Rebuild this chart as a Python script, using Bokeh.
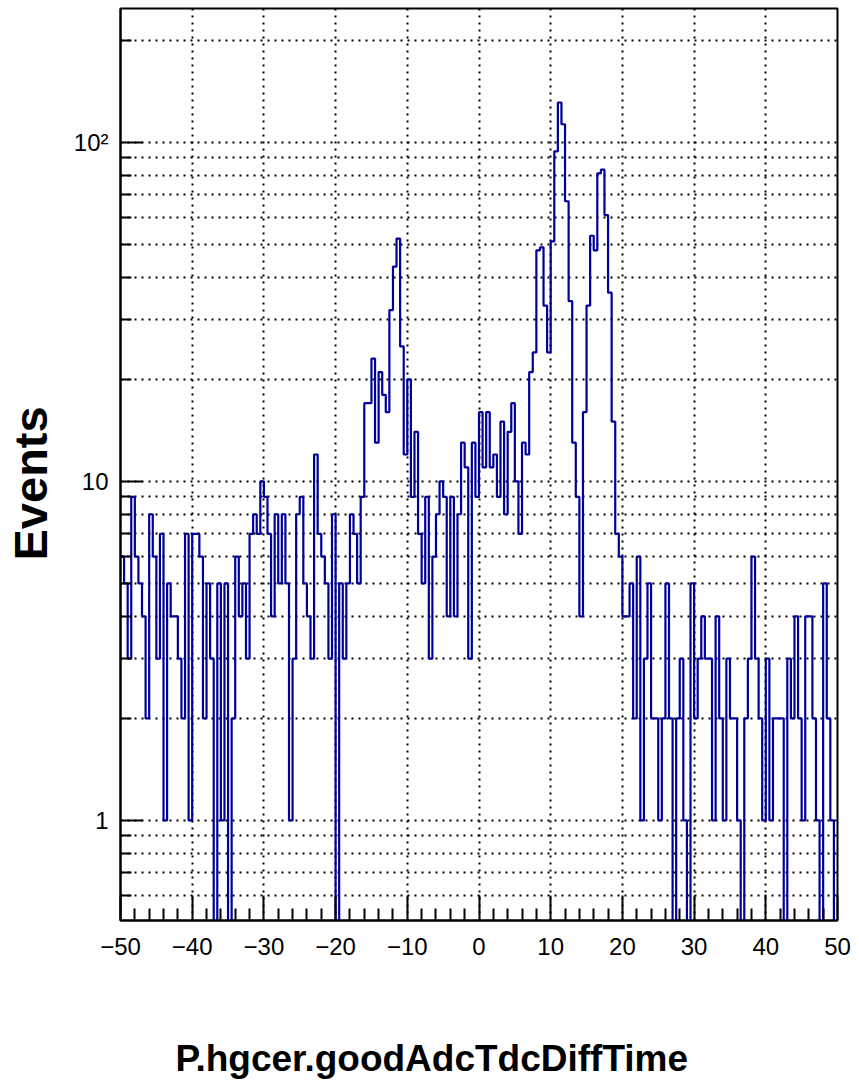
import numpy as np
from bokeh.plotting import figure
from bokeh.models import FixedTicker, Range1d, Title
from bokeh.embed import file_html
from bokeh.resources import INLINE

# ---------------- data ----------------
x_low, x_high, n_bins = -50.0, 50.0, 200

counts_a = [6, 5, 3, 9, 6, 5, 4, 2, 8, 6, 3, 7, 1, 5, 4, 4, 3, 2, 7, 1,
            7, 7, 6, 2, 5, 3, 0, 5, 1, 5, 0, 2, 6, 4]                      # bins 0-33
counts_b = [5, 3, 7, 8, 7, 10, 9, 7, 4, 8, 5, 8, 5, 1, 3, 8, 9, 5, 4, 3,
            12, 7, 6, 5, 3, 8, 0, 5, 3, 5, 8, 7, 5, 9]                     # bins 34-67
counts_c = [17, 17, 23, 13, 21, 18, 16, 32, 43, 52, 25, 12, 20, 9, 14, 7, 5, 9, 3, 6,
            8, 10, 9, 4, 9, 4, 8, 13, 11, 3, 13, 9]                        # bins 68-99
counts_d = [16, 11, 16, 11, 12, 9, 15, 8, 14, 17, 10, 7, 13, 12, 21, 24, 48, 49, 33, 24,
            51, 94, 131, 113, 67, 34, 13, 9, 4, 16, 33, 53, 48, 81, 83, 61, 36, 15, 7, 6]  # 100-139
counts_e = [4, 4, 5, 2, 6, 1, 3, 5, 2, 2, 1, 2, 5, 2, 0, 2, 3, 1, 0, 5,
            2, 3, 4, 3, 3, 1, 4, 2, 1, 3, 2, 2, 1, 0, 2, 3, 6, 3, 2, 1,
            3, 1, 2, 2, 2, 0, 3, 2, 4, 2, 1, 4, 4, 2, 1, 0, 5, 2, 1, 0]    # 140-199
counts = counts_a + counts_b + counts_c + counts_d + counts_e

x_ticks = [-50, -40, -30, -20, -10, 0, 10, 20, 30, 40, 50]
x_tick_labels = ["\u221250", "\u221240", "\u221230", "\u221220", "\u221210",
                 "0", "10", "20", "30", "40", "50"]
y_ticks = [1, 10, 100]
y_tick_labels = ["1", "10", "10\u00b2"]
y_minor = [0.6, 0.7, 0.8, 0.9, 2, 3, 4, 5, 6, 7, 8, 9,
           20, 30, 40, 50, 60, 70, 80, 90, 200]
x_minor = [v for v in range(-48, 50, 2) if v % 10 != 0]

x_title = "P.hgcer.goodAdcTdcDiffTime"
y_title = "Events"

# ---------------- figure ----------------
FONT = "Liberation Sans"
LINE = "#000099"

p = figure(width=859, height=1083, y_axis_type="log",
           x_range=Range1d(x_low, x_high), y_range=Range1d(0.507, 248),
           output_backend="svg", toolbar_location=None,
           min_border_left=120, min_border_right=22,
           min_border_top=8, min_border_bottom=163)
p.background_fill_color = "white"
p.border_fill_color = "white"
p.outline_line_color = "black"
p.outline_line_width = 2

edges = np.linspace(x_low, x_high, n_bins + 1)
c = np.array(counts, dtype=float)
c_plot = np.where(c > 0, c, 1e-3)
xs = list(edges[:-1]) + [edges[-1]]
ys = list(c_plot) + [c_plot[-1]]
p.step(x=xs, y=ys, mode="after", line_color=LINE, line_width=2.2)

# grid
p.xgrid.ticker = FixedTicker(ticks=x_ticks)
p.ygrid.ticker = FixedTicker(ticks=sorted(y_ticks + y_minor))
for g in (p.xgrid[0], p.ygrid[0]):
    g.grid_line_color = "black"
    g.grid_line_width = 2
    g.grid_line_dash = "2 5"
    g.grid_line_alpha = 1.0

# axes
xa = p.xaxis[0]
xa.ticker = FixedTicker(ticks=x_ticks, minor_ticks=x_minor)
xa.major_label_overrides = {float(t): l for t, l in zip(x_ticks, x_tick_labels)}
ya = p.yaxis[0]
ya.ticker = FixedTicker(ticks=y_ticks, minor_ticks=y_minor)
ya.major_label_overrides = {float(t): l for t, l in zip(y_ticks, y_tick_labels)}

for ax, mj, mn in ((xa, 25, 12), (ya, 22, 11)):
    ax.axis_line_color = "black"
    ax.axis_line_width = 2
    ax.major_tick_in = mj
    ax.major_tick_out = 0
    ax.minor_tick_in = mn
    ax.minor_tick_out = 0
    ax.major_tick_line_width = 2
    ax.minor_tick_line_width = 2
    ax.major_tick_line_color = "black"
    ax.minor_tick_line_color = "black"
    ax.major_label_text_font = FONT
    ax.major_label_text_font_size = "24px"
    ax.major_label_text_color = "black"
xa.major_label_standoff = 17
ya.major_label_standoff = 12

# titles
p.add_layout(Title(text=x_title, align="left", offset=55, standoff=0,
                   padding=(0, 0, 78, 0),
                   text_font=FONT, text_font_style="bold", text_font_size="37px",
                   text_color="black", text_line_height=1.0), "below")
p.add_layout(Title(text=y_title, align="left", offset=360, standoff=0,
                   padding=(0, 0, 0, 14),
                   text_font=FONT, text_font_style="bold", text_font_size="47px",
                   text_color="black"), "left")

open("out.html", "w").write(file_html(p, INLINE))
